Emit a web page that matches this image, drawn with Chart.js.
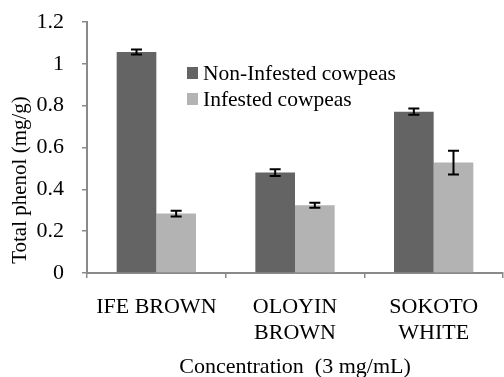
<!DOCTYPE html>
<html>
<head>
<meta charset="utf-8">
<script src="https://cdn.jsdelivr.net/npm/chart.js@4"></script>
<style>
  html, body { margin: 0; padding: 0; background: #fff; }
  #wrap { width: 504px; height: 377px; }
</style>
</head>
<body>
<div id="wrap"><canvas id="phenolChart" width="504" height="377"></canvas></div>
<script>
// values
var categories = [["IFE BROWN"], ["OLOYIN", "BROWN"], ["SOKOTO", "WHITE"]];
var seriesNames = ["Non-Infested cowpeas", "Infested cowpeas"];
var nonInfested = [1.057, 0.480, 0.771];
var nonInfestedErr = [0.012, 0.016, 0.015];
var infested = [0.284, 0.324, 0.528];
var infestedErr = [0.014, 0.012, 0.057];
var yTicks = ["0", "0.2", "0.4", "0.6", "0.8", "1", "1.2"];

var fontFamily = "'Liberation Serif', 'Times New Roman', serif";
var axisGrey = "#8a8a8a";

// error bars drawn on top of each bar
var errorBars = {
  id: 'errorBars',
  afterDatasetsDraw: function(chart) {
    var ctx = chart.ctx;
    var yScale = chart.scales.y;
    chart.data.datasets.forEach(function(ds, di) {
      var meta = chart.getDatasetMeta(di);
      meta.data.forEach(function(bar, i) {
        var v = ds.data[i], e = ds.errors[i];
        var top = yScale.getPixelForValue(v + e);
        var bot = yScale.getPixelForValue(v - e);
        ctx.save();
        ctx.strokeStyle = "#000";
        ctx.lineWidth = 2;
        ctx.beginPath();
        ctx.moveTo(bar.x, top); ctx.lineTo(bar.x, bot);
        ctx.moveTo(bar.x - 5.5, top); ctx.lineTo(bar.x + 5.5, top);
        ctx.moveTo(bar.x - 5.5, bot); ctx.lineTo(bar.x + 5.5, bot);
        ctx.stroke();
        ctx.restore();
      });
    });
  }
};

// legend inside the plot + rotated y title
var extras = {
  id: 'extras',
  afterDraw: function(chart) {
    var ctx = chart.ctx;
    var area = chart.chartArea;
    ctx.save();
    ctx.font = "21.5px " + fontFamily;
    ctx.textBaseline = "middle";
    ctx.fillStyle = "#000";
    chart.data.datasets.forEach(function(ds, i) {
      var x = area.left + 100;
      var y = area.top + 51 + i * 26;
      ctx.fillStyle = ds.backgroundColor;
      ctx.fillRect(x, y - 6, 11, 12);
      ctx.fillStyle = "#000";
      ctx.fillText(ds.label, x + 16, y + 1);
    });
    ctx.translate(20, 180);
    ctx.rotate(-Math.PI / 2);
    ctx.textAlign = "center";
    ctx.font = "21px " + fontFamily;
    ctx.fillText("Total phenol (mg/g)", 0, 0);
    ctx.restore();
  }
};

var ctx = document.getElementById('phenolChart').getContext('2d');
var phenolChart = new Chart(ctx, {
  type: 'bar',
  data: {
    labels: categories,
    datasets: [
      {
        label: seriesNames[0],
        data: nonInfested,
        errors: nonInfestedErr,
        backgroundColor: "#646464",
        barPercentage: 1,
        categoryPercentage: 0.572
      },
      {
        label: seriesNames[1],
        data: infested,
        errors: infestedErr,
        backgroundColor: "#b3b3b3",
        barPercentage: 1,
        categoryPercentage: 0.572
      }
    ]
  },
  options: {
    responsive: false,
    animation: false,
    devicePixelRatio: 1,
    layout: { padding: { top: 22, right: 1, left: 0, bottom: 0 } },
    plugins: {
      legend: { display: false },
      tooltip: { enabled: false }
    },
    scales: {
      x: {
        grid: { drawOnChartArea: false, drawTicks: true, tickLength: 5, color: axisGrey, lineWidth: 1.5 },
        border: { color: axisGrey, width: 2 },
        ticks: { color: "#000", font: { family: fontFamily, size: 22 }, padding: 16, maxRotation: 0 },
        title: {
          display: true,
          text: "Concentration  (3 mg/mL)",
          color: "#000",
          font: { family: fontFamily, size: 22 },
          padding: { top: 0, bottom: -3 }
        },
        afterFit: function(scale) { scale.height = 104; }
      },
      y: {
        min: 0,
        max: 1.2,
        grid: { drawOnChartArea: false, drawTicks: true, tickLength: 5, color: axisGrey, lineWidth: 1.5 },
        border: { color: axisGrey, width: 2 },
        ticks: {
          stepSize: 0.2,
          color: "#000",
          font: { family: fontFamily, size: 22 },
          padding: 18,
          callback: function(value, index) { return yTicks[index]; }
        },
        afterFit: function(scale) {
          scale.width = 87;
          scale.paddingTop = 0;
          scale.paddingBottom = 0;
        }
      }
    }
  },
  plugins: [errorBars, extras]
});
</script>
</body>
</html>
